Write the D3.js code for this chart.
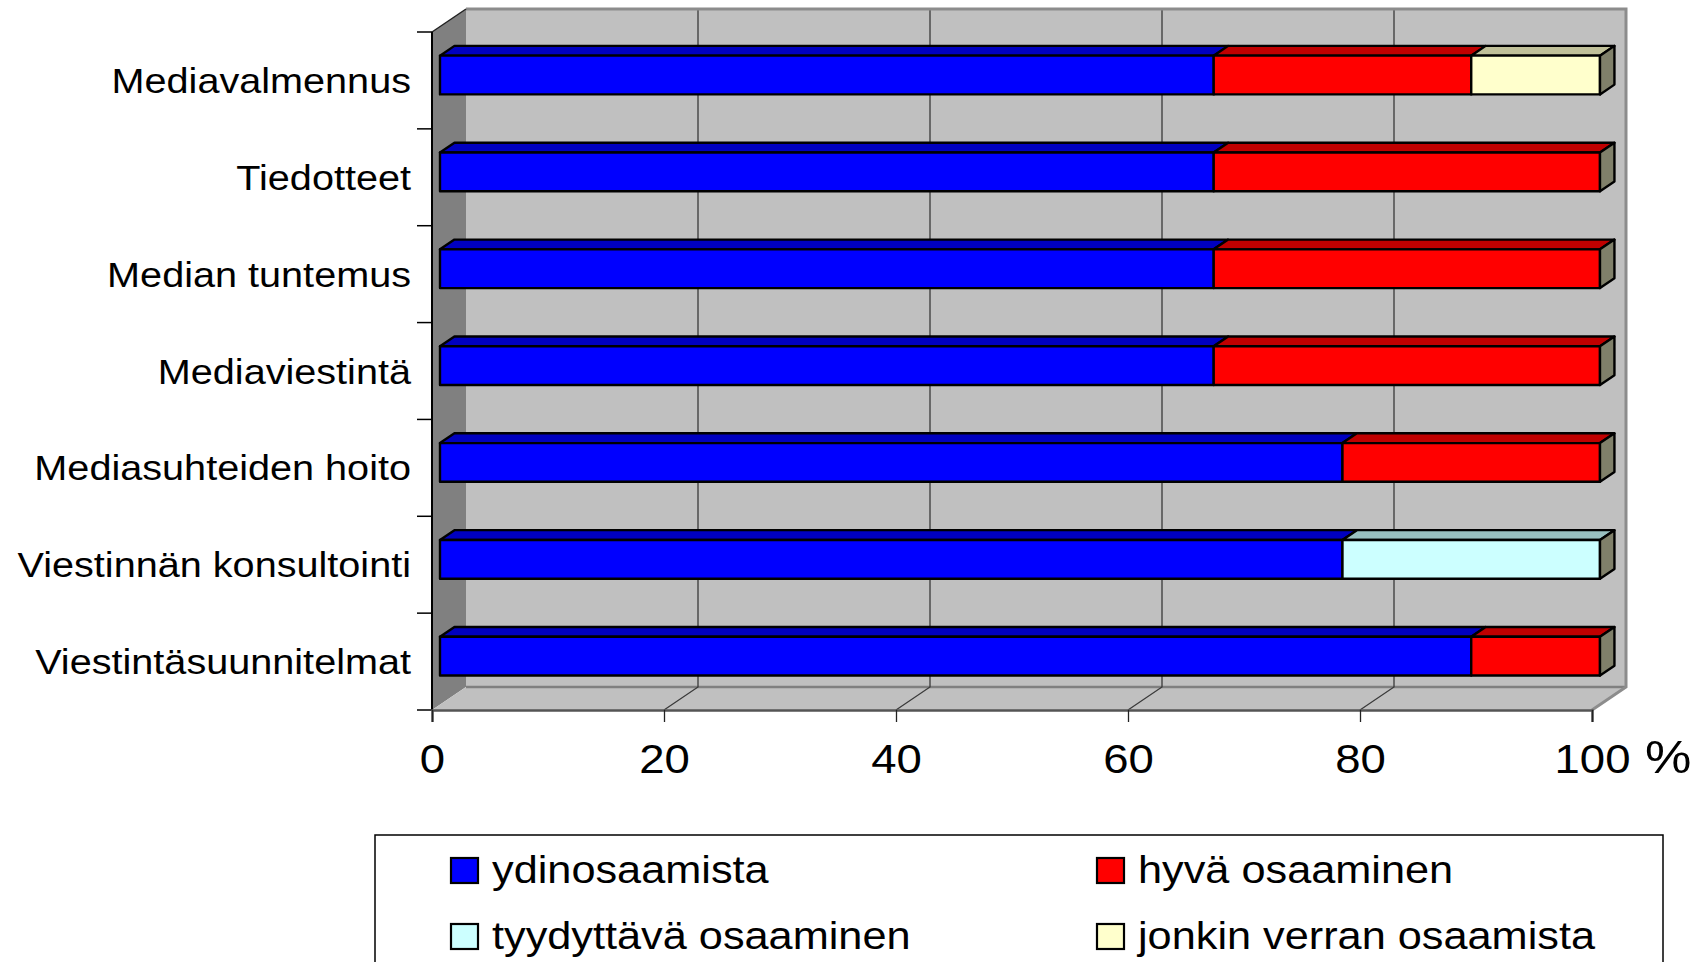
<!DOCTYPE html>
<html>
<head>
<meta charset="utf-8">
<script src="https://cdn.jsdelivr.net/npm/d3@7"></script>
<style>
  html, body { margin: 0; padding: 0; background: #ffffff; }
  svg { display: block; }
  text { font-family: "Liberation Sans", Arial, sans-serif; fill: #000; }
</style>
</head>
<body>
<svg id="chart" width="1704" height="962"></svg>
<script>
// Osaamisen taso mediatyön osa-alueittain (%)
const categories = [
  "Mediavalmennus",
  "Tiedotteet",
  "Median tuntemus",
  "Mediaviestintä",
  "Mediasuhteiden hoito",
  "Viestinnän konsultointi",
  "Viestintäsuunnitelmat"
];
const seriesNames = ["ydinosaamista", "hyvä osaaminen", "tyydyttävä osaaminen", "jonkin verran osaamista"];
const ydinosaamista       = [66.7, 66.7, 66.7, 66.7, 77.8, 77.8, 88.9];
const hyvaOsaaminen       = [22.2, 33.3, 33.3, 33.3, 22.2, 0, 11.1];
const tyydyttavaOsaaminen = [0, 0, 0, 0, 0, 22.2, 0];
const jonkinVerran        = [11.1, 0, 0, 0, 0, 0, 0];
const xTicks = [0, 20, 40, 60, 80, 100];

// colours: front face / top face
const frontColors = ["#0000FF", "#FF0000", "#CCFFFF", "#FFFFCC"];
const topColors   = ["#0000C0", "#C00000", "#99C0C0", "#C0C099"];
const endColor = "#80806A";

const svg = d3.select("#chart");

const table = categories.map((c, i) => ({
  cat: c,
  [seriesNames[0]]: ydinosaamista[i],
  [seriesNames[1]]: hyvaOsaaminen[i],
  [seriesNames[2]]: tyydyttavaOsaaminen[i],
  [seriesNames[3]]: jonkinVerran[i]
}));

const x = d3.scaleLinear().domain([0, 100]).range([432, 1592]);
const y = d3.scaleBand().domain(categories).range([32, 710]);

// oblique depth projection
const DX = 34, DY = 23;
const P = (px, py, z) => [px + z * DX, py - z * DY];
const poly = pts => pts.map(p => p.join(",")).join(" ");

const x0 = x(0), x1 = x(100), yT = y.range()[0], yB = y.range()[1];

// ---- walls ----
const walls = svg.append("g");
// side wall
walls.append("polygon")
  .attr("points", poly([P(x0, yT, 0), P(x0, yT, 1), P(x0, yB, 1), P(x0, yB, 0)]))
  .attr("fill", "#808080");
// back wall
walls.append("polygon")
  .attr("points", poly([P(x0, yT, 1), P(x1, yT, 1), P(x1, yB, 1), P(x0, yB, 1)]))
  .attr("fill", "#C0C0C0");
// floor
walls.append("polygon")
  .attr("points", poly([P(x0, yB, 0), P(x1, yB, 0), P(x1, yB, 1), P(x0, yB, 1)]))
  .attr("fill", "#C0C0C0");

// gridlines on back wall and floor
const grid = svg.append("g");
xTicks.filter(t => t > 0 && t < 100).forEach(t => {
  const a = P(x(t), yT, 1), b = P(x(t), yB, 1), c = P(x(t), yB, 0);
  grid.append("polyline")
    .attr("points", poly([a, b, c]))
    .attr("fill", "none")
    .attr("stroke", "#3a3a3a")
    .attr("stroke-width", 1.3);
});

// wall edges
walls.append("line")
  .attr("x1", P(x0, yB, 1)[0]).attr("y1", P(x0, yB, 1)[1])
  .attr("x2", P(x1, yB, 1)[0]).attr("y2", P(x1, yB, 1)[1])
  .attr("stroke", "#808080").attr("stroke-width", 2.5);
svg.append("polyline")
  .attr("points", poly([P(x0, yT, 1), P(x1, yT, 1), P(x1, yB, 1), P(x1, yB, 0)]))
  .attr("fill", "none").attr("stroke", "#8c8c8c").attr("stroke-width", 3);
svg.append("line")
  .attr("x1", P(x0, yT, 0)[0]).attr("y1", P(x0, yT, 0)[1])
  .attr("x2", P(x0, yT, 1)[0]).attr("y2", P(x0, yT, 1)[1])
  .attr("stroke", "#222").attr("stroke-width", 1.5);

// ---- bars ----
const stack = d3.stack().keys(seriesNames)(table);
const zF = 0.235, zB = 0.66;
const barH = y.bandwidth() * 0.4;
const bars = svg.append("g")
  .attr("stroke", "#000")
  .attr("stroke-width", 2.4)
  .attr("stroke-linejoin", "round");

categories.forEach((c, ci) => {
  const yc = y(c) + y.bandwidth() / 2;
  const top = yc - barH / 2, bot = yc + barH / 2;
  const segs = stack.map((s, si) => ({ si, v0: s[ci][0], v1: s[ci][1] }))
    .filter(d => d.v1 - d.v0 > 0);
  segs.forEach((d, k) => {
    const l = x(d.v0), r = x(d.v1);
    // top face
    bars.append("polygon")
      .attr("points", poly([P(l, top, zF), P(r, top, zF), P(r, top, zB), P(l, top, zB)]))
      .attr("fill", topColors[d.si]);
    // front face
    bars.append("polygon")
      .attr("points", poly([P(l, top, zF), P(r, top, zF), P(r, bot, zF), P(l, bot, zF)]))
      .attr("fill", frontColors[d.si]);
    // end face of the last segment
    if (k === segs.length - 1) {
      bars.append("polygon")
        .attr("points", poly([P(r, top, zF), P(r, top, zB), P(r, bot, zB), P(r, bot, zF)]))
        .attr("fill", endColor);
    }
  });
});

// ---- axes ----
const SX = 1.11; // horizontal text stretch
const axisG = svg.append("g");
// category axis line and ticks at band edges
axisG.append("line")
  .attr("x1", x0).attr("x2", x0).attr("y1", yT).attr("y2", yB)
  .attr("stroke", "#000").attr("stroke-width", 2);
const edges = categories.map(c => y(c)).concat([yB]);
axisG.selectAll("line.ytick").data(edges).join("line")
  .attr("class", "ytick")
  .attr("x1", x0 - 15).attr("x2", x0).attr("y1", d => d).attr("y2", d => d)
  .attr("stroke", "#000").attr("stroke-width", 1.5);
axisG.selectAll("g.ylab").data(categories).join("g")
  .attr("class", "ylab")
  .attr("transform", d => `translate(${x0 - 21},${y(d) + y.bandwidth() / 2 + 12.5}) scale(${SX},1)`)
  .append("text")
  .attr("text-anchor", "end")
  .attr("font-size", 35.7)
  .text(d => d);

// value axis
const xAxis = d3.axisBottom(x).tickValues(xTicks).tickSize(12).tickPadding(0).tickFormat(d3.format("d"));
const xg = svg.append("g").attr("transform", `translate(0,${yB})`).call(xAxis);
xg.select(".domain").attr("stroke", "#555").attr("stroke-width", 2.5);
xg.selectAll(".tick line").attr("stroke", "#222").attr("stroke-width", 1.3);
xg.selectAll(".tick text")
  .attr("y", 0).attr("dy", null)
  .attr("transform", `translate(0,63) scale(${SX},1)`)
  .attr("font-size", 41)
  .attr("font-family", "Liberation Sans, Arial, sans-serif")
  .attr("fill", "#000");
xg.attr("font-family", null).attr("font-size", null);
svg.append("g")
  .attr("transform", `translate(1645,${yB + 63}) scale(${SX},1)`)
  .append("text")
  .attr("font-size", 47)
  .text("%");

// ---- legend ----
const legend = svg.append("g");
legend.append("rect")
  .attr("x", 375).attr("y", 835).attr("width", 1288).attr("height", 200)
  .attr("fill", "#fff").attr("stroke", "#000").attr("stroke-width", 1.5);
const legPos = [[451, 858], [1097, 858], [451, 924], [1097, 924]];
seriesNames.forEach((name, i) => {
  const [lx, ly] = legPos[i];
  legend.append("rect")
    .attr("x", lx).attr("y", ly).attr("width", 27).attr("height", 25)
    .attr("fill", frontColors[i]).attr("stroke", "#000").attr("stroke-width", 2.2);
  legend.append("g")
    .attr("transform", `translate(${lx + 41},${ly + 24.5}) scale(${SX},1)`)
    .append("text")
    .attr("font-size", 39)
    .text(name);
});
</script>
</body>
</html>
